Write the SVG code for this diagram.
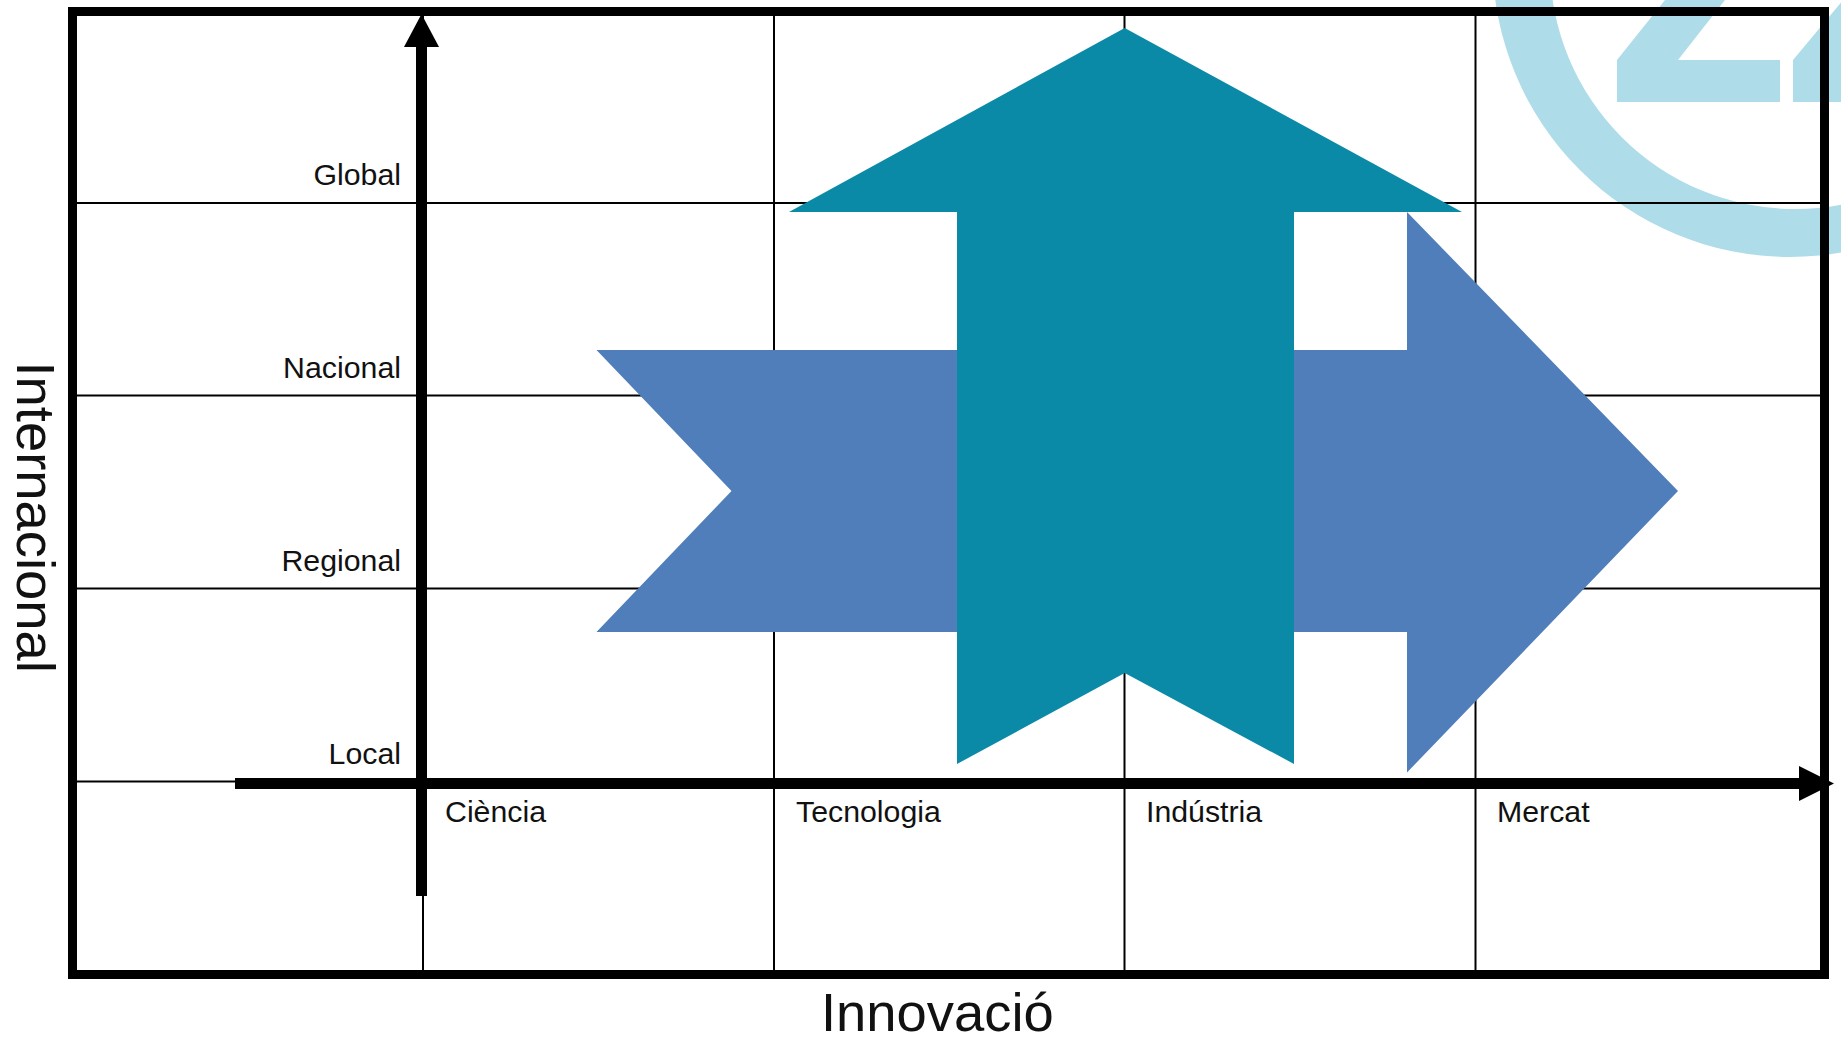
<svg xmlns="http://www.w3.org/2000/svg" width="1841" height="1038" viewBox="0 0 1841 1038">
<style>
.grid{stroke:#000;stroke-width:2;fill:none}
.axis{stroke:#000;stroke-width:11;fill:none}
.t{font-family:"Liberation Sans",Arial,sans-serif;font-size:30.3px;fill:#111}
.title{font-family:"Liberation Sans",Arial,sans-serif;font-size:54.4px;fill:#111}
.logo{fill:#AEDDE9}
</style>
<rect width="1841" height="1038" fill="#fff"/>
<g id="logo">
<path class="logo" fill-rule="evenodd" d="M1492.500,-40.500a297.500,297.500 0 1 0 595,0a297.500,297.500 0 1 0 -595,0ZM1550,-36a245,245 0 1 0 490,0a245,245 0 1 0 -490,0Z"/>
<polygon class="logo" points="1617,60 1665,0 1725,0 1678,60 1780,60 1780,102 1617,102"/>
<polygon class="logo" points="1793,60 1843,0 1841,102 1793,102"/>
</g>
<g id="grid">
<path class="grid" d="M77 203H1820M77 395.500H1820M77 588.500H1820M77 781.500H1820"/>
<path class="grid" d="M423 16V970M774 16V970M1124.500 16V970M1475.500 16V970"/>
</g>
<g id="frame"><rect x="72.500" y="11.500" width="1752" height="963" fill="none" stroke="#000" stroke-width="9"/></g>
<g id="arrow-horizontal"><polygon fill="#4F7EBA" points="596.500,350 1407,350 1407,212 1678,491 1407,772.500 1407,632 596.500,632 731.500,491"/></g>
<g id="arrow-vertical"><polygon fill="#0B8AA8" points="1124.700,28 1462,212 1294,212 1294,764 1124.700,673 957,764 957,212 789,212"/></g>
<g id="connectors">
<path class="axis" d="M421.500 896V45"/>
<polygon points="421.500,14 404,47 439,47"/>
<path class="axis" d="M235 783.500H1800"/>
<polygon points="1834,783.500 1799,766 1799,801"/>
</g>
<g id="labels-y">
<text class="t" x="401" y="185" text-anchor="end">Global</text>
<text class="t" x="401" y="378" text-anchor="end">Nacional</text>
<text class="t" x="401" y="571" text-anchor="end">Regional</text>
<text class="t" x="401" y="764" text-anchor="end">Local</text>
</g>
<g id="labels-x">
<text class="t" x="445" y="822">Ciència</text>
<text class="t" x="796" y="822">Tecnologia</text>
<text class="t" x="1146" y="822">Indústria</text>
<text class="t" x="1497" y="822">Mercat</text>
</g>
<g id="titles">
<text class="title" x="821" y="1031">Innovació</text>
<text class="title" transform="translate(16.500 361.500) rotate(90)">Internacional</text>
</g>
</svg>
